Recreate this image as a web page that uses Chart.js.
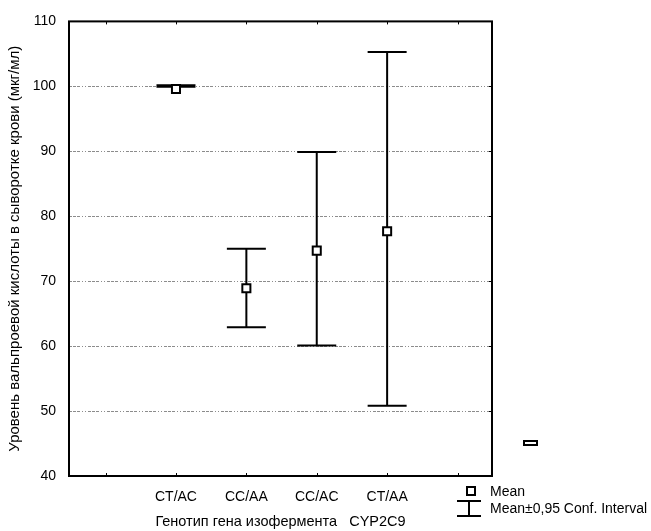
<!DOCTYPE html>
<html>
<head>
<meta charset="utf-8">
<script src="https://cdn.jsdelivr.net/npm/chart.js@4.4.1/dist/chart.umd.min.js"></script>
<style>
  html, body { margin: 0; padding: 0; background: #fff; }
  #wrap { width: 651px; height: 531px; position: relative; }
</style>
</head>
<body>
<div id="wrap"><canvas id="chart"></canvas></div>
<script>
// genotype groups (x positions 1..4 on the axis)
const genotypes = ['CT/AC', 'CC/AA', 'CC/AC', 'CT/AA'];
const means = [99.6, 68.9, 74.7, 77.7];
const ciLow = [99.95, 62.9, 60.1, 50.8];
const ciHigh = [100.15, 75.0, 89.9, 105.3];
const yTicks = [40, 50, 60, 70, 80, 90, 100, 110];

const FONT = "Arial, 'Liberation Sans', sans-serif";

// whiskers for the confidence intervals
const errorBars = {
    id: 'errorBars',
    beforeDatasetsDraw(chart) {
        const ctx = chart.ctx;
        const xs = chart.scales.x, ys = chart.scales.y;
        ctx.save();
        ctx.strokeStyle = '#000';
        ctx.lineWidth = 2;
        for (let i = 0; i < genotypes.length; i++) {
            const x = xs.getPixelForValue(i + 1);
            const yl = ys.getPixelForValue(ciLow[i]);
            const yh = ys.getPixelForValue(ciHigh[i]);
            ctx.beginPath();
            ctx.moveTo(x, yl); ctx.lineTo(x, yh);
            ctx.moveTo(x - 19.5, yl); ctx.lineTo(x + 19.5, yl);
            ctx.moveTo(x - 19.5, yh); ctx.lineTo(x + 19.5, yh);
            ctx.stroke();
        }
        ctx.restore();
    }
};

// box around the plot, small inner ticks, legend
const frameAndLegend = {
    id: 'frameAndLegend',
    afterDraw(chart) {
        const ctx = chart.ctx;
        const a = chart.chartArea;
        const xs = chart.scales.x, ys = chart.scales.y;
        ctx.save();
        ctx.strokeStyle = '#000';
        ctx.lineWidth = 2;
        ctx.strokeRect(a.left, a.top, a.right - a.left, a.bottom - a.top);

        ctx.lineWidth = 1;
        ctx.beginPath();
        for (let v = 0; v <= 5; v++) {
            const x = Math.round(xs.getPixelForValue(v)) + 0.5;
            ctx.moveTo(x, a.bottom); ctx.lineTo(x, a.bottom - 3);
            ctx.moveTo(x, a.top); ctx.lineTo(x, a.top + 3);
        }
        yTicks.slice(1, -1).forEach(v => {
            const y = Math.round(ys.getPixelForValue(v)) + 0.5;
            ctx.moveTo(a.right, y); ctx.lineTo(a.right - 3, y);
        });
        ctx.stroke();

        // stray marker beside the plot
        ctx.lineWidth = 2;
        ctx.fillStyle = '#fff';
        ctx.fillRect(524, 441, 13, 4);
        ctx.strokeRect(524, 441, 13, 4);

        // legend: mean
        ctx.fillRect(467, 487, 8, 8);
        ctx.strokeRect(467, 487, 8, 8);
        // legend: interval
        ctx.beginPath();
        ctx.moveTo(469, 501); ctx.lineTo(469, 516);
        ctx.moveTo(457, 501); ctx.lineTo(481, 501);
        ctx.moveTo(457, 516); ctx.lineTo(481, 516);
        ctx.stroke();

        ctx.fillStyle = '#000';
        ctx.font = '14px ' + FONT;
        ctx.textBaseline = 'middle';
        ctx.textAlign = 'left';
        ctx.fillText('Mean', 490, 492);
        ctx.fillText('Mean\u00b10,95 Conf. Interval', 490, 509);
        ctx.restore();
    }
};

const ctx = document.getElementById('chart').getContext('2d');
window.myChart = new Chart(ctx, {
    type: 'scatter',
    data: {
        datasets: [{
            label: 'Mean',
            data: means.map((m, i) => ({ x: i + 1, y: m })),
            pointStyle: 'rect',
            pointRadius: 5.7,
            pointBorderWidth: 2,
            pointBackgroundColor: '#fff',
            pointBorderColor: '#000'
        }]
    },
    options: {
        responsive: true,
        maintainAspectRatio: false,
        animation: false,
        layout: { padding: { top: 20, right: 159, left: 0, bottom: 0 } },
        plugins: {
            legend: { display: false },
            tooltip: { enabled: false }
        },
        scales: {
            x: {
                type: 'linear',
                min: -0.52,
                max: 5.49,
                afterBuildTicks: scale => {
                    scale.ticks = [0, 1, 2, 3, 4, 5].map(v => ({ value: v }));
                },
                afterFit: scale => { scale.height = 55; },
                grid: { display: false, drawTicks: false },
                border: { display: false },
                ticks: {
                    padding: 13,
                    color: '#000',
                    font: { family: FONT, size: 14 },
                    maxRotation: 0,
                    autoSkip: false,
                    callback: v => genotypes[v - 1] || ''
                },
                title: {
                    display: true,
                    text: 'Генотип гена изофермента   CYP2C9',
                    color: '#000',
                    font: { family: FONT, size: 14.5 },
                    padding: { top: 0, bottom: 0 }
                }
            },
            y: {
                min: 40,
                max: 110,
                afterBuildTicks: scale => {
                    scale.ticks = yTicks.map(v => ({ value: v }));
                },
                afterFit: scale => { scale.width = 69; },
                grid: {
                    drawTicks: false,
                    color: c => (c.tick && (c.tick.value === 40 || c.tick.value === 110)) ? 'rgba(0,0,0,0)' : '#8c8c8c',
                    lineWidth: 1
                },
                border: { display: false, dash: [3, 1, 3, 1, 3, 2, 1, 2, 1, 2] },
                ticks: {
                    padding: 13,
                    color: '#000',
                    font: { family: FONT, size: 14 }
                },
                title: {
                    display: true,
                    text: 'Уровень вальпроевой кислоты в сыворотке крови (мкг/мл)',
                    color: '#000',
                    font: { family: FONT, size: 15 },
                    padding: { top: 6, bottom: 0 }
                }
            }
        }
    },
    plugins: [errorBars, frameAndLegend]
});
</script>
</body>
</html>
